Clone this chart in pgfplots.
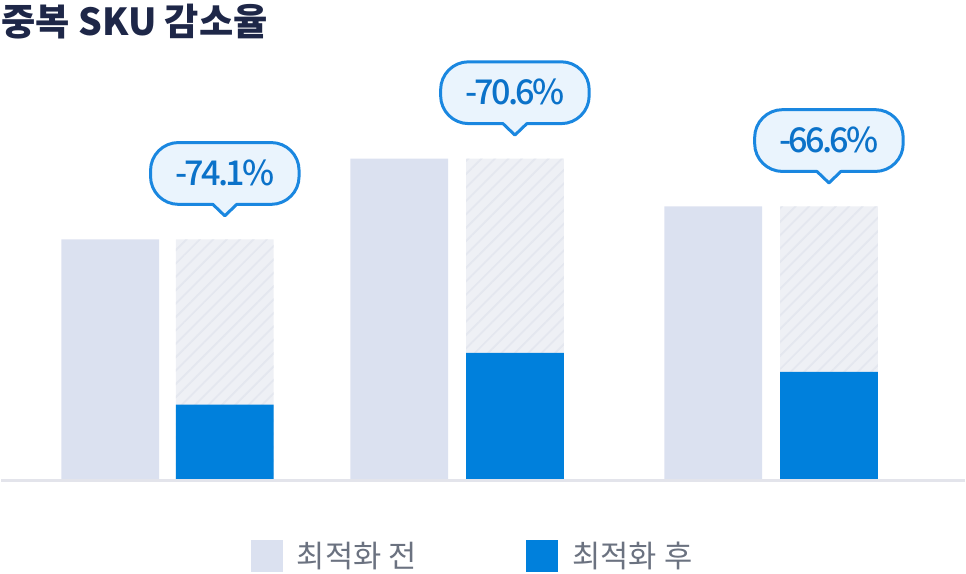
\documentclass[border=0pt]{standalone}
\usepackage{pgfplots}
\pgfplotsset{compat=1.18}
\usetikzlibrary{patterns.meta}
\usepackage{fontspec}
\setmainfont{Noto Sans CJK KR}
\newfontfamily\krmed{Noto Sans CJK KR}[UprightFont={* Medium}, LetterSpace=-8]

\definecolor{beforec}{HTML}{DBE1F0}
\definecolor{afterc}{HTML}{0080DC}
\definecolor{hatchbg}{HTML}{EEF0F5}
\definecolor{hatchln}{HTML}{E4E7EF}
\definecolor{basec}{HTML}{E3E4EB}
\definecolor{bubbleln}{HTML}{1A87E0}
\definecolor{bubblebg}{HTML}{EAF4FD}
\definecolor{pcttext}{HTML}{0B72C9}
\definecolor{titlec}{HTML}{1E2748}
\definecolor{legtext}{HTML}{6B7280}

% callout bubble with its pointer, drawn above the top of the "before" value
% (units of 0.04cm = one pixel of the target)
\def\u{0.04cm}
\pgfdeclareplotmark{callout}{%
  \pgfpathmoveto{\pgfpoint{-12*\u}{35*\u}}%
  \pgfpathlineto{\pgfpoint{0cm}{23.5*\u}}%
  \pgfpathlineto{\pgfpoint{12*\u}{35*\u}}%
  \pgfpathlineto{\pgfpoint{46.5*\u}{35*\u}}%
  \pgfpatharc{-90}{0}{28*\u}%
  \pgfpathlineto{\pgfpoint{74.5*\u}{69*\u}}%
  \pgfpatharc{0}{90}{28*\u}%
  \pgfpathlineto{\pgfpoint{-46.5*\u}{97*\u}}%
  \pgfpatharc{90}{180}{28*\u}%
  \pgfpathlineto{\pgfpoint{-74.5*\u}{63*\u}}%
  \pgfpatharc{180}{270}{28*\u}%
  \pgfpathclose
  \pgfsetfillcolor{bubblebg}\pgfsetstrokecolor{bubbleln}%
  \pgfsetlinewidth{3*\u}\pgfsetroundjoin
  \pgfusepath{fill,stroke}}

\begin{document}
\begin{tikzpicture}
\begin{axis}[
    x=0.04cm, y=0.04cm,
    xmin=0, xmax=966, ymin=-94, ymax=481,
    hide axis, clip=false,
    legend style={at={(axis cs:250,-76)}, anchor=west, legend columns=2,
        draw=none, fill=none, inner sep=0pt, outer sep=0pt,
        font=\fontsize{35}{40}\selectfont, text=legtext,
        nodes={inner sep=0pt},
        /tikz/every odd column/.append style={column sep=0.6cm},
        /tikz/every even column/.append style={column sep=4.4cm}},
]
\path (axis cs:0,-94) rectangle (axis cs:966,481);

% before
\addplot[ybar, bar width=98, bar shift=0pt, fill=beforec, draw=none, forget plot]
    coordinates {(109,241) (399,322) (714,274)};
% ghost of the before value behind the after bar
\addplot[ybar, bar width=98, bar shift=0pt, fill=hatchbg, draw=none, forget plot]
    coordinates {(224,241) (515,322) (830,274)};
\addplot[ybar, bar width=98, bar shift=0pt, draw=none, forget plot,
    pattern={Lines[angle=45, distance=0.38cm, line width=0.07cm]}, pattern color=hatchln]
    coordinates {(224,241) (515,322) (830,274)};
% after
\addplot[ybar, bar width=98, bar shift=0pt, fill=afterc, draw=none, forget plot]
    coordinates {(224,75) (515,127) (830,108)};

\draw[basec, line width=0.12cm] (axis cs:0,-0.5) -- (axis cs:966,-0.5);

% callouts
\addplot[only marks, mark=callout, forget plot, point meta=explicit symbolic,
    nodes near coords,
    every node near coord/.style={anchor=center, yshift=2.67cm,
        inner sep=0pt, text=pcttext, font=\krmed\fontsize{39}{44}\selectfont}]
    coordinates {(224,241) [-74.1\%] (515,322) [-70.6\%] (830,274) [-66.6\%]};

\node[anchor=base west, inner sep=0pt, text=titlec,
    font=\bfseries\fontsize{42.5}{48}\selectfont] at (axis cs:0,445) {중복 SKU 감소율};

\addlegendimage{legend image code/.code={\fill[beforec] (0cm,-0.62cm) rectangle (1.24cm,0.62cm);}}
\addlegendentry{최적화 전}
\addlegendimage{legend image code/.code={\fill[afterc] (0cm,-0.62cm) rectangle (1.24cm,0.62cm);}}
\addlegendentry{최적화 후}
\end{axis}
\end{tikzpicture}
\end{document}
